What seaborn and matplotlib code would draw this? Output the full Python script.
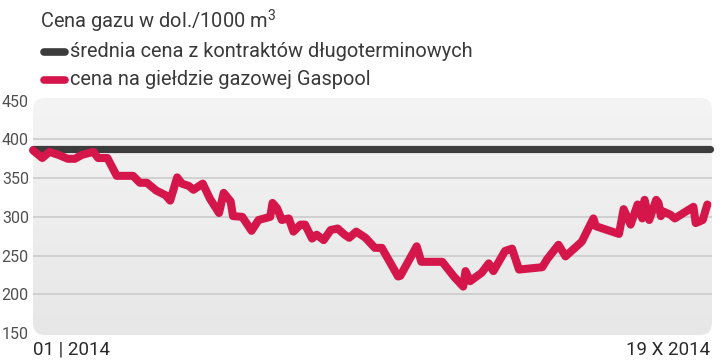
import numpy as np
import pandas as pd
import matplotlib
matplotlib.use("Agg")
import matplotlib.pyplot as plt
import seaborn as sns
from matplotlib.patches import FancyBboxPatch
from matplotlib.lines import Line2D
from matplotlib.transforms import IdentityTransform
from matplotlib.colors import LinearSegmentedColormap

# ---------------- data ----------------
start_date = "2014-01-01"
end_date = "2014-10-19"
gaspool_days = [0, 4, 7, 11, 15, 18, 21, 26, 28, 32, 36, 43, 46, 49, 53, 57, 59, 62, 64, 67,
                69, 73, 76, 80, 82, 85, 86, 90, 94, 97, 102, 103, 105, 107, 110, 112, 115, 117,
                120, 122, 125, 128, 131, 134, 136, 139, 143, 147, 150, 157, 158, 165, 167, 176,
                181, 185, 186, 188, 193, 196, 198, 203, 206, 209, 219, 221, 226, 229, 236, 241,
                242, 252, 254, 257, 260, 262, 263, 265, 268, 269, 270, 271, 274, 276, 284, 285,
                288, 290]
gaspool_price = [386, 376, 384, 380, 375, 375, 380, 384, 376, 376, 353, 353, 344, 344, 334, 328,
                 321, 351, 343, 340, 335, 343, 324, 305, 331, 320, 301, 300, 282, 296, 300, 318,
                 311, 296, 298, 281, 290, 290, 272, 277, 270, 283, 285, 277, 273, 281, 273, 260,
                 260, 223, 224, 262, 242, 242, 223, 210, 230, 217, 228, 240, 230, 256, 259, 232,
                 235, 245, 264, 249, 268, 298, 288, 278, 310, 290, 316, 298, 322, 296, 322, 318,
                 301, 307, 303, 298, 313, 292, 296, 316]
contract_price = 388
y_ticks = [150, 200, 250, 300, 350, 400, 450]
grid_values = [200, 250, 300, 350, 400]
x_tick_labels = ["01 | 2014", "19 X 2014"]
title_text = "Cena gazu w dol./1000 m$^{3}$"
legend_labels = ["średnia cena z kontraktów długoterminowych",
                 "cena na giełdzie gazowej Gaspool"]

# ---------------- style ----------------
RED = "#d5164b"
DARK = "#3c3c3c"
TEXT = "#3a3a3a"

sns.set_theme(style="white")
plt.rcParams["font.family"] = ["Roboto", "DejaVu Sans"]
plt.rcParams["mathtext.fontset"] = "custom"
plt.rcParams["mathtext.rm"] = "Roboto"
plt.rcParams["mathtext.it"] = "Roboto"

W, H = 720, 364
fig = plt.figure(figsize=(W / 100, H / 100), dpi=100)
fig.patch.set_facecolor("white")
L, R, T, B = 33, 712, 98, 335
ax = fig.add_axes([L / W, 1 - B / H, (R - L) / W, (B - T) / H])
ax.set_facecolor("none")
for s in ax.spines.values():
    s.set_visible(False)

t0 = pd.Timestamp(start_date)
t_end = pd.Timestamp(end_date)
df = pd.DataFrame({
    "date": t0 + pd.to_timedelta(gaspool_days, unit="D"),
    "price": gaspool_price,
})
df_contract = pd.DataFrame({"date": [t0, t_end], "price": [contract_price, contract_price]})

sns.lineplot(data=df_contract, x="date", y="price", ax=ax, color=DARK, lw=5.2,
             solid_capstyle="round", zorder=3, clip_on=False)
sns.lineplot(data=df, x="date", y="price", ax=ax, color=RED, lw=5.8,
             solid_capstyle="round", solid_joinstyle="round", zorder=4, clip_on=False)

for v in grid_values:
    ax.axhline(v, color="#c8c8c8", lw=1.1, zorder=1)

# rounded gradient background
patch = FancyBboxPatch((L, H - B), R - L, B - T, boxstyle="round,pad=0,rounding_size=12",
                       transform=IdentityTransform(), facecolor="none", edgecolor="none")
fig.add_artist(patch)
cmap = LinearSegmentedColormap.from_list("bg", ["#e7e7e7", "#f4f4f4"])
grad = np.linspace(0, 1, 256).reshape(-1, 1)
im = ax.imshow(grad, extent=[0, 1, 0, 1], transform=ax.transAxes, aspect="auto",
               cmap=cmap, origin="lower", zorder=0)
im.set_clip_path(patch)

ax.set_ylim(147.5, 453.5)
ax.set_xlim(t0, t0 + pd.Timedelta(days=292))
ax.set_yticks(y_ticks)
ax.set_yticklabels([str(v) for v in y_ticks])
ax.tick_params(axis="y", length=0, pad=3, labelsize=11.5, labelcolor="#505050")
ax.set_xticks([t0, t_end])
ax.set_xticklabels(x_tick_labels)
ax.tick_params(axis="x", length=0, pad=4, labelsize=13.5, labelcolor="#2a2a2a")
xl = ax.get_xticklabels()
xl[0].set_ha("left")
xl[1].set_ha("right")
ax.set_xlabel("")
ax.set_ylabel("")

# title & legend
fig.text(40 / W, 1 - 28.3 / H, title_text, fontsize=14.4, color=TEXT, va="baseline",
         ha="left")
ys = [51.7, 80]
cols = [DARK, RED]
for y, c, lab in zip(ys, cols, legend_labels):
    fig.add_artist(Line2D([44 / W, 65 / W], [1 - y / H] * 2, lw=5.5, color=c,
                          solid_capstyle="round", transform=fig.transFigure))
    fig.text(70 / W, 1 - (y + 5) / H, lab, fontsize=14.4, color=TEXT, va="baseline",
             ha="left")

fig.savefig("out.png", dpi=100)
